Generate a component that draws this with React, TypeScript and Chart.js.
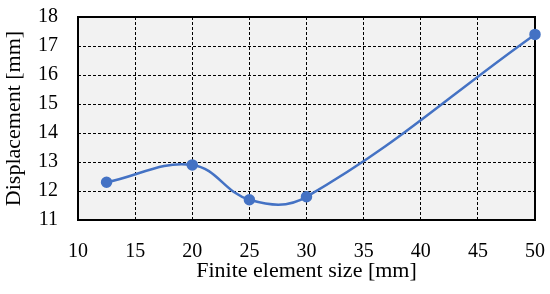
import React, { useEffect, useRef } from "react";
import { Chart, registerables } from "chart.js";

Chart.register(...registerables);

const elementSize = [12.5, 20, 25, 30, 50];
const displacement = [12.3, 12.9, 11.7, 11.8, 17.4];
const xTicks = [10, 15, 20, 25, 30, 35, 40, 45, 50];
const yTicks = [11, 12, 13, 14, 15, 16, 17, 18];
const xTitle = "Finite element size [mm]";
const yTitle = "Displacement [mm]";

const FONT = "'Liberation Serif', serif";

const areaPlugin = {
  id: "areaPlugin",
  beforeDraw(chart: any) {
    const { ctx, chartArea: a } = chart;
    ctx.save();
    ctx.fillStyle = "#f2f2f2";
    ctx.fillRect(a.left, a.top, a.right - a.left, a.bottom - a.top);
    ctx.restore();
  },
  beforeDatasetsDraw(chart: any) {
    const { ctx, chartArea: a } = chart;
    ctx.save();
    ctx.strokeStyle = "#000";
    ctx.lineWidth = 2;
    ctx.strokeRect(a.left, a.top, a.right - a.left, a.bottom - a.top);
    ctx.restore();
  },
};

export default function App() {
  const ref = useRef<HTMLCanvasElement | null>(null);
  useEffect(() => {
    document.body.style.margin = "0";
    if (!ref.current) return;
    const edgeColor = (vals: number[]) => (c: any) => {
      const v = c.tick?.value;
      return v === vals[0] || v === vals[vals.length - 1] ? "rgba(0,0,0,0)" : "#000";
    };
    const chart = new Chart(ref.current, {
      type: "line",
      data: {
        datasets: [
          {
            data: elementSize.map((x, i) => ({ x, y: displacement[i] })),
            borderColor: "#4472C4",
            backgroundColor: "#4472C4",
            borderWidth: 2.5,
            pointRadius: 4.5,
            pointHoverRadius: 4.5,
            tension: 0.4,
            clip: false as any,
          },
        ],
      },
      options: {
        animation: false,
        responsive: false,
        events: [],
        layout: { padding: { top: 17, right: 15, left: 0, bottom: 0 } },
        plugins: { legend: { display: false }, tooltip: { enabled: false } },
        scales: {
          x: {
            type: "linear",
            min: xTicks[0],
            max: xTicks[xTicks.length - 1],
            afterBuildTicks: (s: any) => {
              s.ticks = xTicks.map((v) => ({ value: v }));
            },
            afterFit: (s: any) => {
              s.height = 74;
              s.paddingLeft = 0;
              s.paddingRight = 0;
            },
            ticks: {
              autoSkip: false,
              maxRotation: 0,
              color: "#000",
              font: { family: FONT, size: 20 },
              padding: 20,
            },
            grid: {
              color: edgeColor(xTicks),
              lineWidth: 1,
              drawTicks: false,
            },
            border: { display: false, dash: [3, 2] },
            title: {
              display: true,
              text: xTitle,
              color: "#000",
              font: { family: FONT, size: 22 },
              padding: { top: 0, bottom: 10 },
            },
          },
          y: {
            type: "linear",
            min: yTicks[0],
            max: yTicks[yTicks.length - 1],
            afterBuildTicks: (s: any) => {
              s.ticks = yTicks.map((v) => ({ value: v }));
            },
            afterFit: (s: any) => {
              s.width = 78;
              s.paddingTop = 0;
              s.paddingBottom = 0;
            },
            ticks: {
              autoSkip: false,
              color: "#000",
              font: { family: FONT, size: 20 },
              padding: 20,
            },
            grid: {
              color: edgeColor(yTicks),
              lineWidth: 1,
              drawTicks: false,
            },
            border: { display: false, dash: [3, 2] },
            title: {
              display: true,
              text: yTitle,
              color: "#000",
              font: { family: FONT, size: 22 },
              padding: { top: 1, bottom: 0 },
            },
          },
        },
      },
      plugins: [areaPlugin],
    });
    return () => chart.destroy();
  }, []);
  return <canvas ref={ref} width={550} height={294} style={{ display: "block", width: 550, height: 294 }} />;
}
